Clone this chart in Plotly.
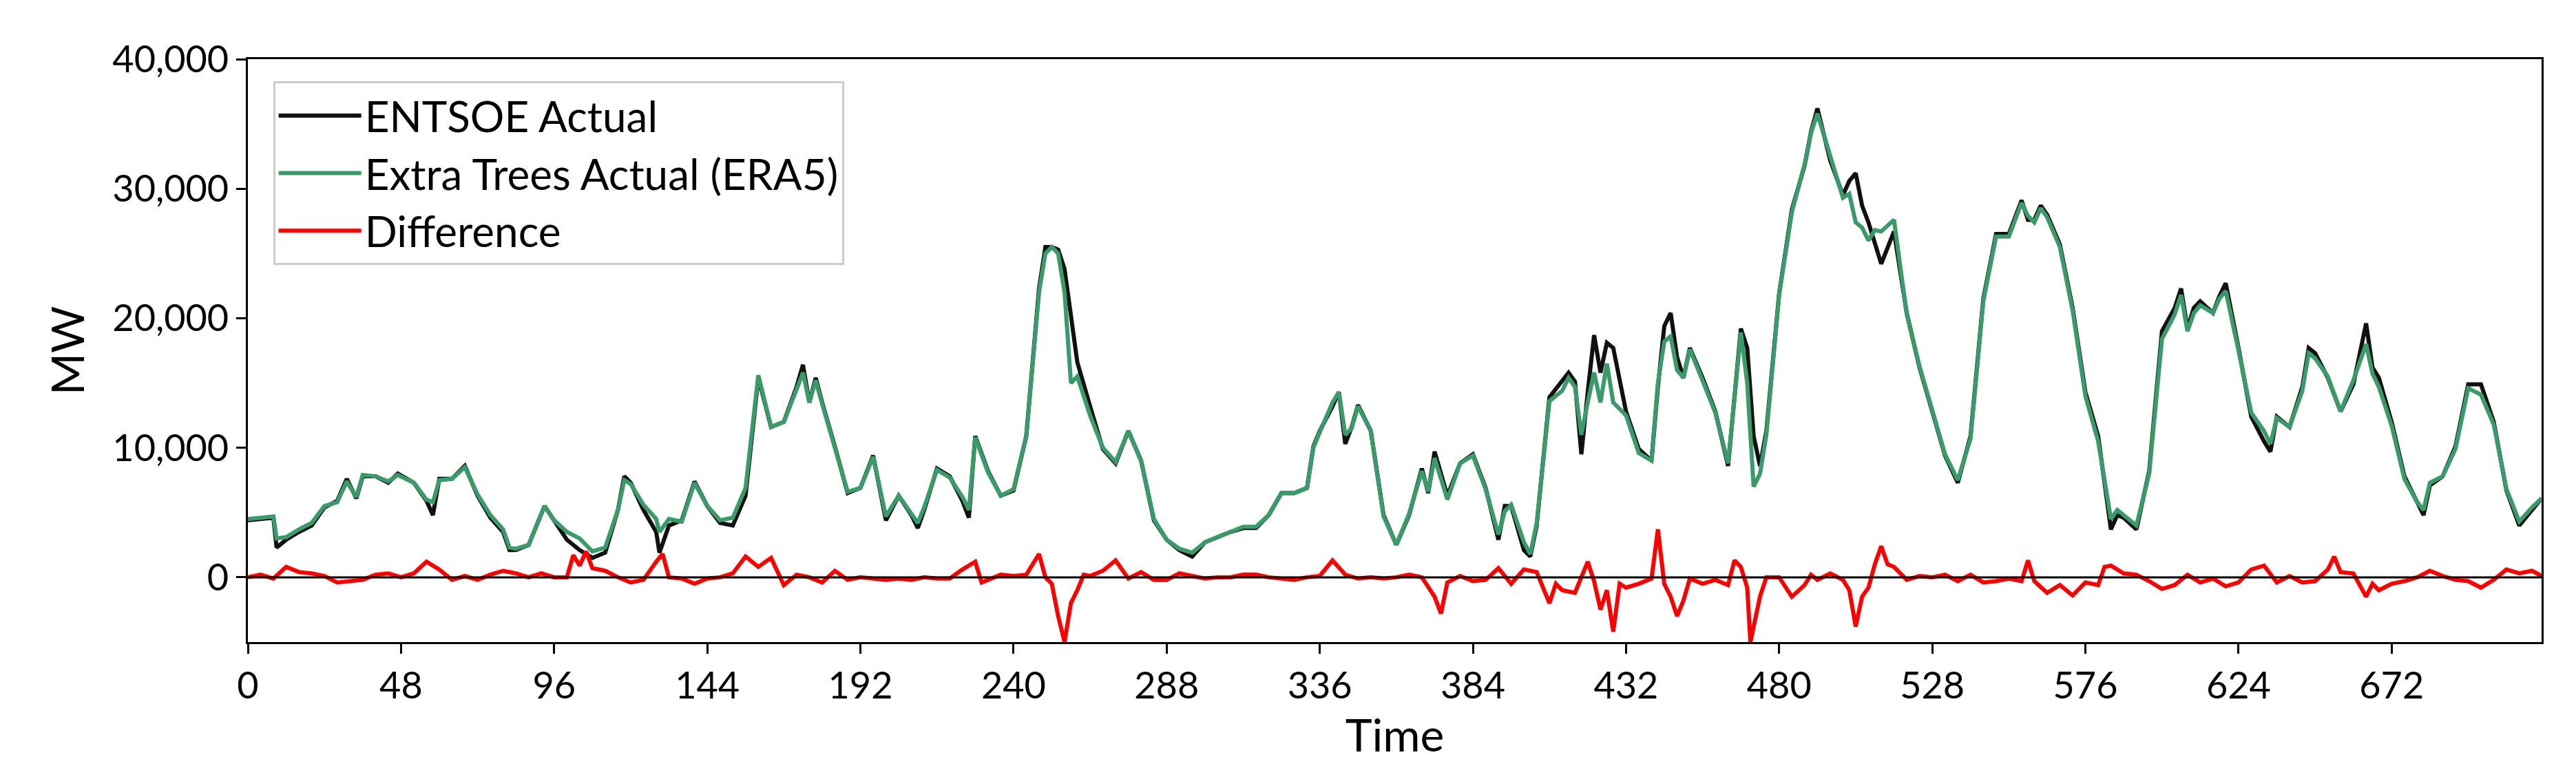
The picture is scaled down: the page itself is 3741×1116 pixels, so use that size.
import plotly.graph_objects as go

black_t = [0,4,8,9,12,16,20,24,28,31,34,36,40,44,47,52,56,58,60,64,68,72,76,80,82,84,88,93,96,100,104,108,112,116,118,120,124,128,129,132,136,140,144,148,152,156,160,164,168,172,174,176,178,180,184,188,192,196,200,204,208,210,212,216,220,224,226,228,232,236,240,244,248,250,252,254,256,258,260,264,268,272,276,280,284,288,292,296,300,304,308,312,316,320,324,328,332,334,336,340,342,344,346,348,352,356,360,364,368,370,372,376,380,384,388,392,394,396,400,402,404,408,412,414,416,418,420,422,424,426,428,432,436,440,442,444,446,448,450,452,456,460,464,468,470,472,474,476,480,484,488,490,492,496,500,502,504,506,508,510,512,516,520,524,528,532,536,540,544,548,552,556,558,560,562,564,568,572,576,580,584,586,588,592,596,600,604,606,608,610,612,616,618,620,624,628,632,634,636,640,644,646,648,652,656,660,664,666,668,672,676,680,682,684,688,692,696,700,704,708,712,716,719]
entsoe = [4400,4500,4600,2300,2900,3500,4000,5400,5900,7600,6100,7800,7800,7300,8000,7300,5900,4800,7600,7600,8600,6300,4600,3500,2100,2100,2500,5500,4400,2900,2100,1500,1900,5200,7800,7300,5200,3500,1900,4000,4400,7400,5500,4200,4000,6300,15400,11600,12000,14700,16400,13500,15400,13500,10100,6500,6900,9400,4400,6300,4800,3800,5200,8400,7800,5900,4600,10900,8200,6300,6700,10900,22300,25500,25500,25300,23800,20000,16600,13200,9900,8800,11300,9000,4400,2900,2100,1600,2700,3100,3500,3800,3800,4800,6500,6500,6900,10100,11300,13200,14300,10300,11600,13300,11300,4800,2500,4800,8400,6500,9700,6300,8800,9500,6900,2900,5500,5500,2100,1600,4000,13900,15100,15800,15100,9500,14300,18700,15800,18100,17700,12800,9900,9000,14700,19400,20400,17000,15400,17700,15400,12800,8600,19200,17700,10900,8600,11300,21900,28400,31800,34400,36200,32200,29500,30600,31200,28700,27400,25700,24200,26700,20400,16200,12800,9400,7300,10900,21500,26500,26500,29100,27600,27600,28700,28000,25700,20800,14300,10900,3700,4800,4600,3700,8200,19000,20800,22300,19200,20800,21300,20400,21700,22700,17700,12400,10500,9700,12400,11600,14700,17700,17300,15400,12800,14900,19600,16200,15400,12000,7800,5900,4800,7100,7800,10100,14900,14900,12000,6700,4000,5200,6100]
extra_trees = [4500,4600,4700,3000,3100,3700,4200,5500,5800,7400,6200,7900,7800,7400,7900,7300,6000,5800,7500,7600,8500,6400,4800,3700,2300,2200,2500,5500,4400,3500,3000,2000,2300,5200,7500,7200,5600,4500,3500,4500,4300,7300,5500,4400,4600,6900,15600,11600,12000,14500,15800,13500,15200,13400,10000,6600,6900,9300,4700,6300,4900,4200,5400,8300,7700,6200,5200,10800,8100,6300,6800,10900,22000,25000,25500,25000,22000,15000,15500,12500,10000,8900,11300,9000,4500,2900,2200,1900,2700,3100,3500,3900,3900,4800,6500,6500,6900,10000,11200,13500,14300,11000,11500,13200,11300,4700,2500,4900,8200,6600,9200,6000,8800,9400,6800,3300,5100,5600,2700,1800,4200,13600,14400,15400,14700,11000,13500,15800,13500,16500,13500,12500,9600,9000,15000,18200,18600,16000,15400,17600,15200,12700,8800,18900,15000,7000,8000,11000,21800,28200,31900,34300,35800,32500,29300,29600,27400,27000,26000,26800,26700,27600,20300,16300,12900,9500,7500,10700,21300,26300,26300,28900,27900,27400,28500,27800,25500,20600,14000,10500,4500,5200,4800,4000,8000,18400,20300,21800,19000,20400,21000,20400,21500,22100,17500,12700,11300,10300,12300,11600,14400,17300,16900,15500,12800,15200,18000,15700,14700,11700,7600,5800,5200,7300,7800,9900,14600,14100,11800,6800,4300,5400,6100]
diff_t = [0,4,8,12,16,20,24,28,32,36,40,44,48,52,56,60,64,68,72,76,80,84,88,92,96,100,102,104,106,108,112,116,120,124,128,130,132,136,140,144,148,152,156,160,164,168,172,176,180,184,188,192,196,200,204,208,212,216,220,224,228,230,232,236,240,244,248,250,252,254,256,258,260,262,264,268,272,276,280,284,288,292,296,300,304,308,312,316,320,324,328,332,336,340,344,348,352,356,360,364,368,372,374,376,380,384,388,392,396,400,404,408,410,412,416,420,422,424,426,428,430,432,436,440,442,444,446,448,450,452,456,460,464,466,468,470,471,474,476,480,484,488,490,492,496,500,502,504,506,508,510,512,514,516,520,524,528,532,536,540,544,548,552,556,558,560,564,568,572,576,580,582,584,588,592,596,600,604,608,612,616,620,624,628,632,636,640,644,648,652,654,656,660,664,666,668,672,676,680,684,688,692,696,700,704,708,712,716,719]
difference = [0,200,-100,800,400,300,100,-400,-300,-200,200,300,0,300,1200,600,-200,100,-200,200,500,300,0,300,0,0,1700,900,2000,700,500,0,-400,-200,1200,1800,0,-100,-500,-100,0,300,1600,800,1500,-600,200,0,-400,500,-200,0,-100,-200,-100,-200,0,-100,-100,600,1200,-400,-200,200,100,200,1800,0,-500,-3000,-5000,-2000,-1000,200,100,500,1300,-100,400,-200,-200,300,100,-100,0,0,200,200,0,-100,-200,0,100,1300,200,-100,0,-100,0,200,0,-1500,-2800,-400,100,-300,-200,700,-500,600,400,-2000,-500,-1000,-1200,1200,-300,-2500,-1000,-4200,-500,-800,-500,-100,3700,-500,-1500,-3000,-1800,-100,-500,-200,-600,1300,800,-800,-5000,-1500,0,0,-1500,-600,200,-200,300,-200,-1000,-3800,-1500,-800,1000,2400,1000,800,-200,100,0,200,-300,200,-400,-300,-100,-300,1300,-300,-1200,-600,-1400,-400,-600,800,900,300,200,-300,-900,-600,200,-400,-100,-700,-400,600,900,-400,100,-400,-300,600,1600,400,300,-1500,-500,-1000,-500,-300,0,500,100,-200,-300,-800,-200,600,300,500,100]
x_ticks = [0,48,96,144,192,240,288,336,384,432,480,528,576,624,672]
y_ticks = [0,10000,20000,30000,40000]

fig = go.Figure()
fig.add_trace(go.Scatter(x=black_t, y=entsoe, mode="lines", name="ENTSOE Actual",
                         line=dict(color="#111111", width=6)))
fig.add_trace(go.Scatter(x=black_t, y=extra_trees, mode="lines", name="Extra Trees Actual (ERA5)",
                         line=dict(color="#3a9a6a", width=6)))
fig.add_trace(go.Scatter(x=diff_t, y=difference, mode="lines", name="Difference",
                         line=dict(color="#ff0000", width=6)))
fig.add_hline(y=0, line=dict(color="black", width=3))

axis_common = dict(showline=True, linecolor="black", linewidth=3, mirror=True,
                   ticks="outside", ticklen=14, tickwidth=3, tickcolor="black",
                   showgrid=False, zeroline=False, tickfont=dict(size=54, color="black"))
fig.update_xaxes(range=[0, 719], tickvals=x_ticks, title=dict(text="Time", font=dict(size=66), standoff=8),
                 **axis_common)
fig.update_yaxes(range=[-5000, 40000], tickvals=y_ticks, tickformat=",",
                 title=dict(text="MW", font=dict(size=66), standoff=20), **axis_common)
fig.update_layout(
    width=3741, height=1116, plot_bgcolor="white", paper_bgcolor="white",
    font=dict(family="Lato, Open Sans, sans-serif", color="black"),
    margin=dict(l=352, r=58, t=78, b=191),
    legend=dict(x=0.011, y=0.962, xanchor="left", yanchor="top", font=dict(size=62),
                bgcolor="rgba(255,255,255,0.9)", bordercolor="#cccccc", borderwidth=3,
                itemwidth=120, tracegroupgap=14),
    showlegend=True,
)
fig.write_html("out.html")
